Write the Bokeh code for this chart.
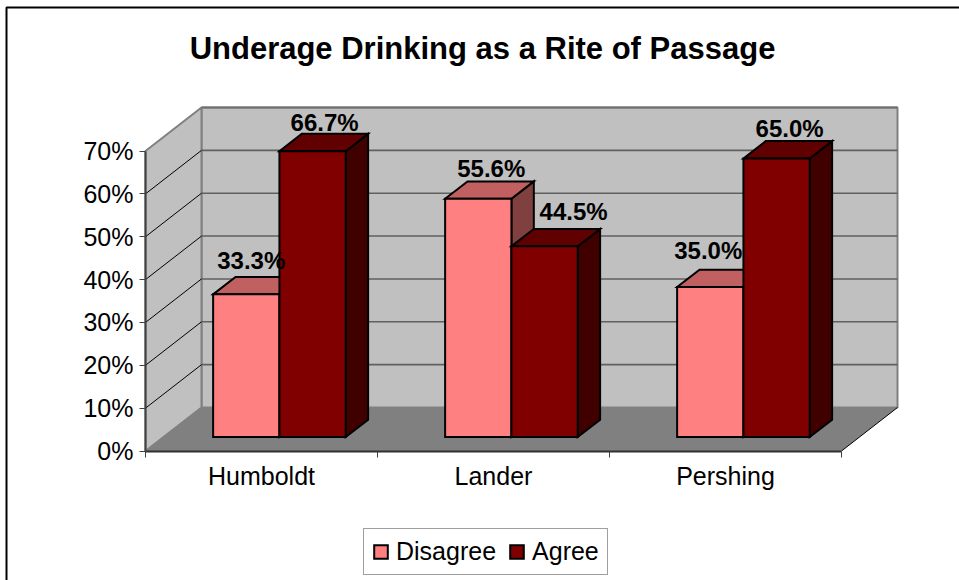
from bokeh.plotting import figure
from bokeh.embed import file_html
from bokeh.resources import INLINE
from bokeh.models import (ColumnDataSource, FixedTicker, Legend, LegendItem,
                          Range1d, PrintfTickFormatter)
from bokeh.core.properties import value

# ---- data ----
categories = ["Humboldt", "Lander", "Pershing"]
disagree = [33.3, 55.6, 35.0]
agree = [66.7, 44.5, 65.0]
disagree_labels = ["33.3%", "55.6%", "35.0%"]
agree_labels = ["66.7%", "44.5%", "65.0%"]
y_ticks = [0, 10, 20, 30, 40, 50, 60, 70]
title_text = "Underage Drinking as a Rite of Passage"

# ---- pseudo-3D projection (one depth unit of the floor, in axis units) ----
PX_X = 232.0            # pixels per category
PX_Y = 300.0 / 70.0     # pixels per percent
DEPTH_X = 56.0 / PX_X
DEPTH_Y = 43.5 / PX_Y
BAR_W = 1 / 3.5
BAR_Z0 = 0.32
BAR_DZ = 0.40
Y_MAX = max(y_ticks)
N = len(categories)

ORIGIN_X, ORIGIN_Y = 145, 450.5   # page position of the axes' origin
W, H = 959, 580
FONT = "Liberation Sans"


def page_x(px):
    return (px - ORIGIN_X) / PX_X


def page_y(py):
    return (ORIGIN_Y - py) / PX_Y


p = figure(width=W, height=H, output_backend="svg", toolbar_location=None,
           x_range=Range1d(page_x(0), page_x(W)),
           y_range=Range1d(page_y(H), page_y(0)),
           min_border=0, outline_line_color=None,
           background_fill_color="white", border_fill_color="white")
p.grid.visible = False


def proj(x, y, z):
    return x + z * DEPTH_X, y + z * DEPTH_Y


# outer chart border (its right and bottom sides lie beyond the page)
p.line([page_x(W + 20), page_x(6), page_x(6)], [page_y(7), page_y(7), page_y(H + 20)],
       line_color="black", line_width=2)

# walls and floor
bx0, by0 = proj(0, 0, 1)
bx1, by1 = proj(N, 0, 1)
_, by_top = proj(0, Y_MAX, 1)
p.patch([bx0, bx1, bx1, bx0], [by0, by0, by_top, by_top], fill_color="#C0C0C0",
        line_color="#808080", line_width=2)
p.patch([0, bx0, bx0, 0], [0, by0, by_top, Y_MAX], fill_color="#C0C0C0",
        line_color="#808080", line_width=2)
p.patch([0, N, bx1, bx0], [0, 0, by0, by0], fill_color="#808080", line_color=None)
p.line([N, bx1], [0, by0], line_color="black", line_width=1)

# gridlines
grid_y = y_ticks[1:-1]
p.segment(x0=[bx0] * len(grid_y), x1=[bx1] * len(grid_y),
          y0=[proj(0, v, 1)[1] for v in grid_y], y1=[proj(0, v, 1)[1] for v in grid_y],
          line_color="#606060", line_width=1.6)
p.segment(x0=[0] * len(grid_y), x1=[bx0] * len(grid_y),
          y0=grid_y, y1=[proj(0, v, 1)[1] for v in grid_y],
          line_color="black", line_width=1)
p.line([bx0, bx1], [by_top, by_top], line_color="#707070", line_width=2)


def bars(values, x_shift, front, top, side):
    xa = [i + 0.5 + x_shift for i in range(N)]
    xb = [x + BAR_W for x in xa]
    z0, z1 = BAR_Z0, BAR_Z0 + BAR_DZ
    side_x, side_y, top_x, top_y = [], [], [], []
    bottoms, tops, centres = [], [], []
    for a, b, v in zip(xa, xb, values):
        f_b = proj(b, 0, z0)
        f_t = proj(b, v, z0)
        k_b = proj(b, 0, z1)
        k_t = proj(b, v, z1)
        side_x.append([f_b[0], k_b[0], k_t[0], f_t[0]])
        side_y.append([f_b[1], k_b[1], k_t[1], f_t[1]])
        fa = proj(a, v, z0)
        ka = proj(a, v, z1)
        top_x.append([fa[0], f_t[0], k_t[0], ka[0]])
        top_y.append([fa[1], f_t[1], k_t[1], ka[1]])
        bottoms.append(f_b[1])
        tops.append(f_t[1])
        centres.append((fa[0] + f_t[0]) / 2)
    p.patches(side_x, side_y, fill_color=side, line_color="black", line_width=2, line_join="miter")
    p.patches(top_x, top_y, fill_color=top, line_color="black", line_width=2, line_join="miter")
    r = p.vbar(x=centres, width=BAR_W, bottom=bottoms, top=tops, fill_color=front,
               line_color="black", line_width=2, line_join="miter")
    return r, centres, tops


r_dis, cx_dis, top_dis = bars(disagree, -BAR_W, "#FF8080", "#C06060", "#804040")
r_agr, cx_agr, top_agr = bars(agree, 0, "#800000", "#600000", "#400000")

# data labels (nudges in pixels from the front-top centre of each bar)
dis_dx, dis_dy = [5, 13, -2], [-34, -30, -37]
agr_dx, agr_dy = [12, 29, 13], [-29, -35, -30]
src = ColumnDataSource(dict(x=cx_dis + cx_agr, y=top_dis + top_agr,
                            t=disagree_labels + agree_labels,
                            dx=dis_dx + agr_dx, dy=dis_dy + agr_dy))
p.text(x="x", y="y", text="t", x_offset="dx", y_offset="dy", source=src,
       text_font=value(FONT), text_font_style="bold", text_font_size="24px",
       text_align="center", text_baseline="alphabetic", text_color="black")

# title
p.text(x=[page_x(482)], y=[page_y(48)], text=[title_text],
       text_font=value(FONT), text_font_style="bold", text_font_size="31px",
       text_align="center", text_baseline="alphabetic", text_color="black")

# axes
ya = p.yaxis[0]
ya.fixed_location = 0
ya.ticker = FixedTicker(ticks=y_ticks, minor_ticks=[])
ya.bounds = (0, Y_MAX)
ya.formatter = PrintfTickFormatter(format="%d%%")
ya.axis_line_color = "#404040"
ya.axis_line_width = 2
ya.major_tick_line_color = "#404040"
ya.major_tick_line_width = 1
ya.major_tick_in = 0
ya.major_tick_out = 6
ya.major_label_standoff = 6
ya.major_label_text_font = FONT
ya.major_label_text_font_size = "25px"
ya.major_label_text_color = "black"

xa = p.xaxis[0]
xa.fixed_location = 0
xa.ticker = FixedTicker(ticks=[i + 0.5 for i in range(N)], minor_ticks=list(range(N + 1)))
xa.bounds = (0, N)
xa.major_label_overrides = {i + 0.5: c for i, c in enumerate(categories)}
xa.axis_line_color = "#303030"
xa.axis_line_width = 2
xa.major_tick_line_color = None
xa.major_tick_in = 0
xa.major_tick_out = 6
xa.minor_tick_line_color = "#404040"
xa.minor_tick_in = 0
xa.minor_tick_out = 6
xa.major_label_standoff = 5
xa.major_label_text_font = FONT
xa.major_label_text_font_size = "25px"
xa.major_label_text_color = "black"

# legend
legend = Legend(items=[LegendItem(label="Disagree", renderers=[r_dis]),
                       LegendItem(label="Agree", renderers=[r_agr])],
                orientation="horizontal", location=(363, 5), margin=0,
                padding=8, spacing=12, glyph_width=17, glyph_height=17, label_standoff=7,
                label_text_font=FONT, label_text_font_size="25px", label_text_color="black",
                border_line_color="#404040", border_line_width=1,
                background_fill_color="white", background_fill_alpha=1)
p.add_layout(legend)

open("out.html", "w").write(file_html(p, INLINE))
